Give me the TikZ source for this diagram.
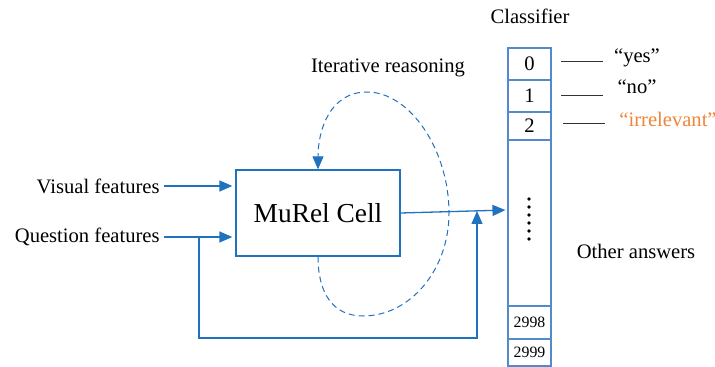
\documentclass[tikz,border=0pt]{standalone}
\usepackage{fontspec}
\setmainfont{Liberation Serif}
\usetikzlibrary{arrows.meta}

\definecolor{flowblue}{RGB}{32,114,190}
\definecolor{cellblue}{RGB}{84,138,204}
\definecolor{answerorange}{RGB}{240,133,56}

\tikzset{
  txt/.style={font=\fontsize{10.3}{12}\selectfont, inner sep=0pt},
  flow/.style={draw=flowblue, line width=0.65pt, -{Triangle[length=6.5pt,width=5.5pt]}},
  cell/.style={draw=cellblue, line width=0.55pt, minimum width=21.5pt, inner sep=0pt,
    font=\fontsize{10.3}{12}\selectfont},
  tick/.style={draw=black!80, line width=0.5pt}
}

\begin{document}
\begin{tikzpicture}[x=0.5pt,y=-0.5pt]
    \useasboundingbox (0,0) rectangle (715,367);

    % inputs and the cell
    \node[txt, anchor=east] (visual) at (160,186) {Visual features};
    \node[txt, anchor=east] (question) at (160,237) {Question features};
    \node[draw=flowblue, line width=0.65pt, minimum width=82pt, minimum height=43pt,
      font=\fontsize{13.7}{16}\selectfont] (murel) at (318,213) {MuRel Cell};
    \node[txt] (iter) at (388,68) {Iterative reasoning};

    \draw[flow, shorten <=2pt, shorten >=1.5pt] (visual.east) -- (murel.west |- visual.east);
    \draw[flow, shorten <=2pt, shorten >=1.5pt] (question.east) -- (murel.west |- question.east);

    % classifier column
    \node[txt] (classifier) at (530,16) {Classifier};
    \node[cell, minimum height=16pt] (c0) at (529.5,64) {0};
    \node[cell, minimum height=16pt] (c1) at (529.5,96) {1};
    \node[cell, minimum height=14pt] (c2) at (529.5,126) {2};
    \node[cell, minimum height=83pt] (rest) at (529.5,223) {};
    \node[cell, minimum height=16.5pt, font=\fontsize{7.9}{9}\selectfont] (c2998) at (529.5,322.5) {2998};
    \node[cell, minimum height=13.5pt, font=\fontsize{7.9}{9}\selectfont] (c2999) at (529.5,352.5) {2999};
    \foreach \i in {0,...,5}
        \fill (529,199+8*\i) circle (0.9pt);

    % answers
    \node[txt] (yes) at (637,58) {``yes''};
    \node[txt] (no) at (637,87) {``no''};
    \node[txt, text=answerorange] (irr) at (668,119) {``irrelevant''};
    \node[txt] (other) at (636,251) {Other answers};
    \draw[tick] (561,62) coordinate (y0) -- (603,62) coordinate (y1);
    \draw[tick] (561,96) coordinate (n0) -- (603,96) coordinate (n1);
    \draw[tick] (563,124) coordinate (i0) -- (605,124) coordinate (i1);

    % cell output and the question skip path
    \draw[flow, shorten >=1pt] (murel.east) -- ([yshift=6.5pt]rest.west);
    \coordinate (split) at (199,237);
    \coordinate (join) at (477,211);
    \draw[flow] (split) |- (join |- 0,338) -- (join);

    % iteration loop
    \draw[flow, densely dashed, line width=0.5pt]
        (murel.south) .. controls (318,292) and (332,316) .. (363,316)
        .. controls (410,316) and (449,270) .. (449,213)
        .. controls (449,150) and (410,92) .. (367,92)
        .. controls (330,92) and (318,130) .. (murel.north);
\end{tikzpicture}
\end{document}
